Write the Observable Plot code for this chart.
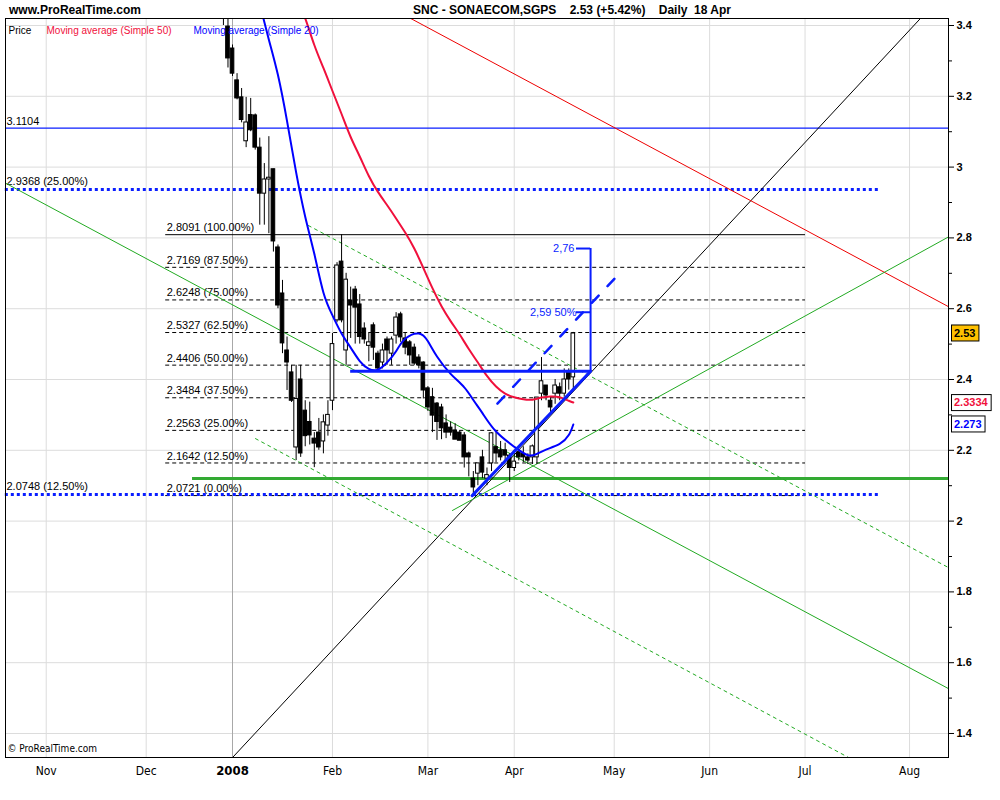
<!DOCTYPE html>
<html><head><meta charset="utf-8">
<script src="https://cdn.jsdelivr.net/npm/d3@7"></script>
<script src="https://cdn.jsdelivr.net/npm/@observablehq/plot@0.6"></script>
<style>
body{margin:0;background:#fff;}
#wrap{position:relative;width:1000px;height:800px;font-family:"Liberation Sans",Arial,sans-serif;}
#hdr{position:relative;height:17px;font-weight:bold;font-size:12px;color:#000;}
#hdr span{position:absolute;top:3px;white-space:pre;}
#chart svg{display:block;}
</style></head><body>
<div id="wrap"><div id="hdr"><span style="left:9px">www.ProRealTime.com</span><span style="left:413px">SNC - SONAECOM,SGPS    2.53 (+5.42%)    Daily  18 Apr</span></div><div id="chart"></div></div>
<script>
// ---- data (x = trading-day index, 0 = first session of Jan 2008) ----
const day   = [-2,-1,0,1,2,3,4,5,6,7,8,9,10,11,12,13,14,15,16,17,18,19,20,21,22,23,24,25,26,27,28,29,30,31,32,33,34,35,36,37,38,39,40,41,42,43,44,45,46,47,48,49,50,51,52,53,54,55,56,57,58,59,60,61,62,63,64,65,66,67,68,69,70,71,72,73,74,75];
const open  = [3.48,3.397,3.335,3.245,3.197,3.073,3.147,3.146,3.055,2.925,2.965,2.994,2.773,2.643,2.482,2.42,2.208,2.40,2.312,2.28,2.233,2.25,2.225,2.27,2.34,2.567,2.733,2.482,2.623,2.654,2.612,2.544,2.495,2.553,2.473,2.448,2.513,2.473,2.524,2.584,2.516,2.505,2.49,2.462,2.448,2.375,2.35,2.332,2.321,2.276,2.264,2.256,2.25,2.242,2.191,2.12,2.134,2.18,2.12,2.163,2.209,2.20,2.20,2.185,2.15,2.194,2.19,2.18,2.18,2.18,2.36,2.383,2.34,2.36,2.378,2.36,2.42,2.406];
const high  = [3.52,3.45,3.345,3.264,3.222,3.197,3.194,3.15,3.082,3.01,3.086,2.994,2.78,2.68,2.52,2.44,2.44,2.44,2.34,2.336,2.25,2.29,2.30,2.34,2.53,2.73,2.809,2.70,2.661,2.663,2.64,2.56,2.53,2.56,2.48,2.50,2.52,2.52,2.589,2.59,2.53,2.51,2.50,2.47,2.45,2.38,2.375,2.335,2.33,2.30,2.28,2.275,2.255,2.25,2.195,2.14,2.16,2.20,2.15,2.25,2.25,2.225,2.22,2.19,2.20,2.20,2.21,2.19,2.215,2.349,2.462,2.383,2.35,2.40,2.39,2.43,2.43,2.533];
const low   = [3.40,3.28,3.256,3.19,3.125,3.055,3.10,3.048,2.836,2.836,2.812,2.76,2.60,2.473,2.369,2.335,2.171,2.18,2.21,2.215,2.151,2.20,2.19,2.24,2.312,2.56,2.56,2.44,2.516,2.50,2.50,2.50,2.45,2.454,2.425,2.43,2.44,2.44,2.50,2.505,2.47,2.44,2.44,2.43,2.345,2.31,2.25,2.228,2.23,2.233,2.24,2.235,2.23,2.15,2.125,2.072,2.10,2.12,2.10,2.14,2.165,2.17,2.165,2.109,2.14,2.17,2.165,2.16,2.16,2.16,2.34,2.34,2.30,2.33,2.34,2.35,2.37,2.37];
const close = [3.45,3.307,3.264,3.194,3.133,3.126,3.104,3.055,2.925,2.965,2.97,2.79,2.609,2.502,2.448,2.34,2.345,2.191,2.24,2.242,2.219,2.208,2.279,2.30,2.50,2.722,2.567,2.682,2.609,2.603,2.52,2.513,2.505,2.49,2.431,2.482,2.482,2.513,2.575,2.519,2.49,2.468,2.445,2.44,2.369,2.321,2.298,2.28,2.262,2.25,2.25,2.23,2.227,2.18,2.18,2.095,2.163,2.137,2.13,2.248,2.191,2.18,2.185,2.15,2.168,2.18,2.18,2.171,2.211,2.349,2.395,2.355,2.321,2.383,2.36,2.40,2.40,2.53];

const ma20Day = [6,8,10,12,14,16,18,20,22,24,26,28,30,32,34,36,38,41,43,45,48,51,53,55,58,62,65,67,69,72,74,75];
const ma20Val = [3.46,3.36,3.26,3.13,2.985,2.86,2.755,2.646,2.581,2.53,2.49,2.452,2.43,2.428,2.448,2.48,2.515,2.530,2.508,2.465,2.416,2.378,2.342,2.305,2.253,2.21,2.186,2.19,2.202,2.218,2.243,2.273];
const ma50Day = [14,16,18,20,22,24,26,28,30,32,34,36,38,40,42,44,46,48,50,52,54,56,58,60,62,64,66,68,70,72,74,75];
const ma50Val = [3.48,3.42,3.345,3.28,3.215,3.15,3.085,3.03,2.975,2.93,2.893,2.855,2.815,2.77,2.715,2.658,2.607,2.565,2.527,2.486,2.448,2.41,2.38,2.36,2.35,2.344,2.343,2.349,2.352,2.35,2.34,2.335];

const monthDay   = [-41,-19,0,22,43,62,84,105,126,149];
const monthLabel = ["Nov","Dec","2008","Feb","Mar","Apr","May","Jun","Jul","Aug"];
const majorTicks = [1.4,1.6,1.8,2.0,2.2,2.4,2.6,2.8,3.0,3.2,3.4];
const minorTicks = [1.5,1.7,1.9,2.1,2.3,2.5,2.7,2.9,3.1,3.3];

const fibValue = [2.8091,2.7169,2.6248,2.5327,2.4406,2.3484,2.2563,2.1642,2.0721];
const fibPct   = ["100.00%","87.50%","75.00%","62.50%","50.00%","37.50%","25.00%","12.50%","0.00%"];
const fibSpan  = [-14.7,126.1];
const dotValue = [2.9368,2.0748];
const dotPct   = ["25.00%","12.50%"];
const dotSpan  = [-50,142.6];
const blueLevel = 3.1104;
const greenLevel = 2.12, greenSpan = [-8.8,160];

const blackTrend   = [[0,1.332],[151.4,3.42]];
const redTrend     = [[39.2,3.42],[160,2.589]];
const greenDown    = [[-50,2.955],[160,1.51]];
const greenDownHi  = [[16.7,2.835],[160,1.852]];
const greenDownLo  = [[5.06,2.233],[135.6,1.332]];
const greenUp      = [[48.4,2.030],[160,2.82]];
const neckLevel = 2.4235, neckSpan = [26,78.8];
const blueTrend    = [[52.75,2.072],[78.8,2.4235]];
const targetTop = 2.77, targetMid = 2.59, targetX = 78.8, tickFrom = 75.7;
const blueDash     = [[58.3,2.332],[84.3,2.688]];

const badgeValue = [2.53,2.3334,2.273];
const badgeText  = ["2.53","2.3334","2.273"];

const xDomain = [-49.96,157.57];
const yDomain = [1.3322,3.4198];

// ---- build ----
const candles = day.map((d,i)=>({day:d,open:open[i],high:high[i],low:low[i],close:close[i]}));
const ma20 = ma20Day.map((d,i)=>[d,ma20Val[i]]);
const ma50 = ma50Day.map((d,i)=>[d,ma50Val[i]]);
const F = "'Liberation Sans',Arial,sans-serif";
const NARROW = "'Liberation Sans Narrow','Arial Narrow','DejaVu Sans Condensed',sans-serif";
const BLUE = "#0a1eff";

const chart = Plot.plot({
  width:1000, height:783, marginLeft:5, marginRight:52, marginTop:1, marginBottom:43,
  x:{type:"linear", domain:xDomain},
  y:{type:"linear", domain:yDomain},
  style:{fontFamily:F, fontSize:"11px", background:"white", overflow:"visible", color:"black"},
  marks:[
    Plot.gridY(majorTicks, {stroke:"#dcdcdc", strokeOpacity:1}),
    Plot.gridX(monthDay.filter(d=>d!==0), {stroke:"#dcdcdc", strokeOpacity:1}),
    Plot.ruleX([0], {stroke:"#a8a8a8"}),
    // fib levels
    Plot.ruleY([fibValue[0]], {x1:fibSpan[0], x2:fibSpan[1], stroke:"black", strokeWidth:1}),
    Plot.ruleY(fibValue.slice(1), {x1:fibSpan[0], x2:fibSpan[1], stroke:"black", strokeWidth:1, strokeDasharray:"4,3"}),
    Plot.text(fibValue, {x:fibSpan[0], y:d=>d, text:(d,i)=>`${d.toFixed(4)} (${fibPct[i]})`, textAnchor:"start", dx:1, dy:-7, fontSize:11, fill:"black"}),
    // horizontal levels
    Plot.ruleY([blueLevel], {stroke:BLUE, strokeWidth:1.3}),
    Plot.text([blueLevel], {x:xDomain[0], y:d=>d, text:d=>d.toFixed(4), textAnchor:"start", dx:1, dy:-7, fontSize:11, fill:"black"}),
    Plot.ruleY(dotValue, {x1:dotSpan[0], x2:dotSpan[1], stroke:BLUE, strokeWidth:3, strokeDasharray:"3,3"}),
    Plot.text(dotValue, {x:xDomain[0], y:d=>d, text:(d,i)=>`${d.toFixed(4)} (${dotPct[i]})`, textAnchor:"start", dx:1, dy:-8, fontSize:11, fill:"black"}),
    Plot.ruleY([greenLevel], {x1:greenSpan[0], x2:greenSpan[1], stroke:"#33aa33", strokeWidth:3, clip:true}),
    // trend lines
    Plot.line(blackTrend, {stroke:"black", strokeWidth:1, clip:true}),
    Plot.line(redTrend, {stroke:"#ee0000", strokeWidth:1, clip:true}),
    Plot.line(greenDown, {stroke:"#22aa22", strokeWidth:1, clip:true}),
    Plot.line(greenUp, {stroke:"#22aa22", strokeWidth:1, clip:true}),
    Plot.line(greenDownHi, {stroke:"#22aa22", strokeWidth:1, strokeDasharray:"3,4", clip:true}),
    Plot.line(greenDownLo, {stroke:"#22aa22", strokeWidth:1, strokeDasharray:"3,4", clip:true}),
    // candles
    Plot.ruleX(candles, {x:"day", y1:"low", y2:"high", stroke:"black", strokeWidth:1, clip:true}),
    Plot.rect(candles, {x1:d=>d.day-0.4, x2:d=>d.day+0.4, y1:"open", y2:"close", fill:d=>d.close>=d.open?"white":"black", stroke:"black", strokeWidth:1, clip:true}),
    // moving averages
    Plot.line(ma50, {curve:"natural", stroke:"#f0103c", strokeWidth:2, clip:true}),
    Plot.line(ma20, {curve:"natural", stroke:"#0000ff", strokeWidth:2, clip:true}),
    // blue pattern annotations
    Plot.ruleY([neckLevel], {x1:neckSpan[0], x2:neckSpan[1], stroke:BLUE, strokeWidth:3}),
    Plot.line(blueTrend, {stroke:BLUE, strokeWidth:3}),
    Plot.ruleX([targetX], {y1:neckLevel, y2:targetTop, stroke:BLUE, strokeWidth:2}),
    Plot.ruleY([targetTop, targetMid], {x1:tickFrom, x2:targetX, stroke:BLUE, strokeWidth:2}),
    Plot.line(blueDash, {stroke:BLUE, strokeWidth:2.5, strokeDasharray:"10,13"}),
    Plot.text([targetTop], {x:tickFrom, y:d=>d, text:()=>"2,76", textAnchor:"end", dx:-2, fill:BLUE, fontSize:11}),
    Plot.text([targetMid], {x:tickFrom, y:d=>d, text:()=>"2,59 50%", textAnchor:"end", dx:0, fill:BLUE, fontSize:11}),
    // legend & caption inside frame
    Plot.text(["Price"], {frameAnchor:"top-left", dx:3, dy:8, fill:"black", fontSize:10}),
    Plot.text(["Moving average (Simple 50)"], {frameAnchor:"top-left", dx:41, dy:8, fill:"#f0103c", fontSize:10}),
    Plot.text(["Moving average (Simple 20)"], {frameAnchor:"top-left", dx:188, dy:8, fill:"#0000ff", fontSize:10}),
    Plot.text(["© ProRealTime.com"], {frameAnchor:"bottom-left", dx:2, dy:-6, fill:"black", fontSize:10, fontFamily:NARROW}),
    // axes
    Plot.axisY({anchor:"right", ticks:majorTicks, tickFormat:d=>String(+d.toFixed(1)), tickSize:5, tickPadding:3, fontWeight:"bold", fontSize:11, label:null}),
    Plot.axisY({anchor:"right", ticks:minorTicks, tickFormat:()=>"", tickSize:3, label:null}),
    Plot.axisX({ticks:monthDay.filter(d=>d!==0), tickFormat:d=>monthLabel[monthDay.indexOf(d)], tickSize:0, tickPadding:9, fontSize:12, fontFamily:NARROW, label:null}),
    Plot.axisX({ticks:[0], tickFormat:d=>monthLabel[monthDay.indexOf(d)], tickSize:0, tickPadding:8, fontSize:13, fontWeight:"bold", fontFamily:NARROW, label:null}),
    Plot.frame({stroke:"black"})
  ]
});
document.getElementById("chart").append(chart);

// value badges on the right axis, placed through the plot's y scale
const ys = chart.scale("y");
const yFn = ys.apply ? ys.apply : d3.scaleLinear(ys.domain, ys.range);
const badgeFill = ["#ffc000","white","white"];
const badgeInk  = ["black","#f0103c","#0000ff"];
const g = d3.select(chart).append("g").attr("text-anchor","start");
badgeValue.forEach((v,i)=>{
  const y = yFn(v);
  const bg = g.append("g");
  const r = bg.append("rect");
  const t = bg.append("text").attr("x",954).attr("y",y).attr("dy","0.35em")
    .attr("text-anchor","start")
    .attr("font-weight","bold").attr("font-size",11).attr("font-family",F)
    .attr("fill",badgeInk[i]).text(badgeText[i]);
  const w = t.node().getComputedTextLength();
  r.attr("x",951.5).attr("y",y-8).attr("width",w+6).attr("height",16)
    .attr("fill",badgeFill[i]).attr("stroke","black").attr("stroke-width",1);
});
</script>
</body></html>
